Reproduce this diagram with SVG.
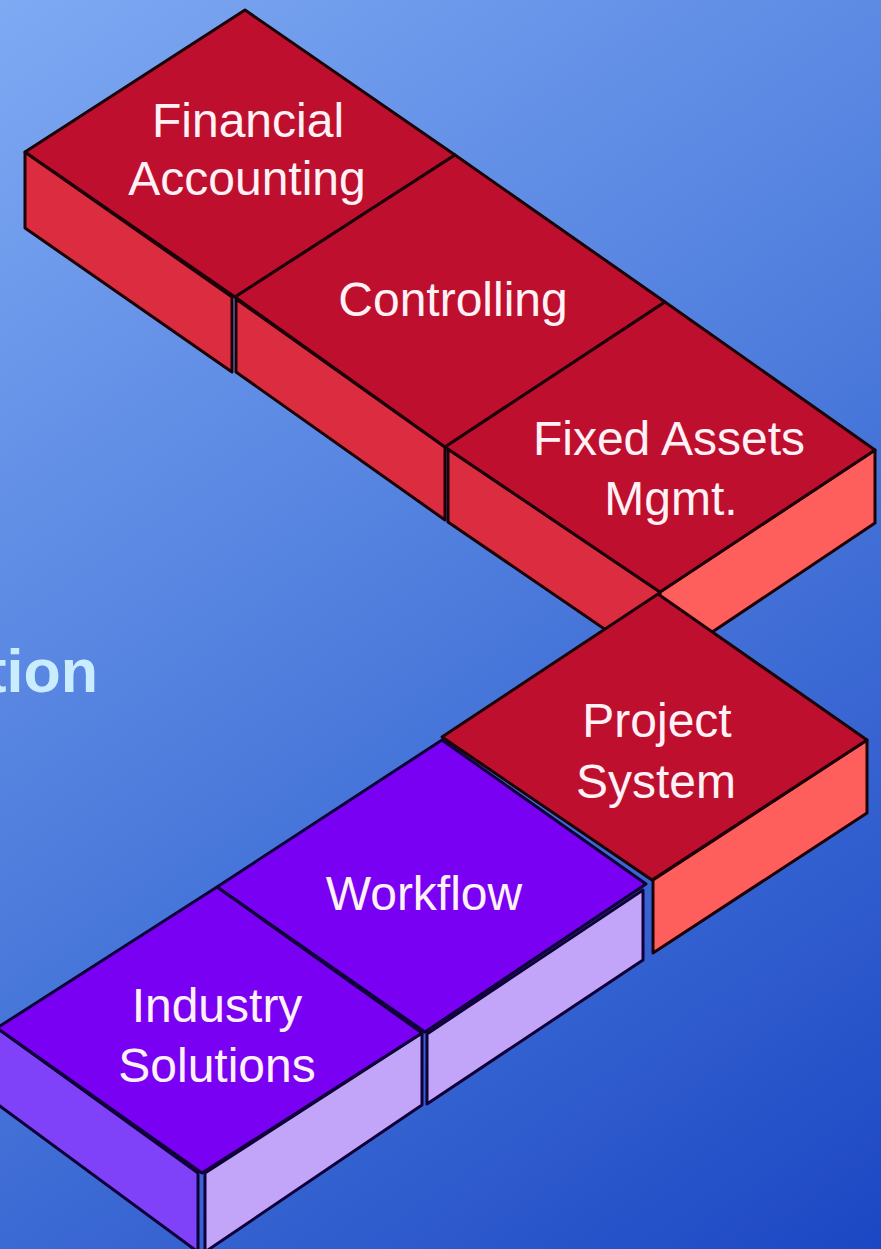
<svg xmlns="http://www.w3.org/2000/svg" width="881" height="1249" viewBox="0 0 881 1249">
<defs>
<linearGradient id="bg" x1="0" y1="0" x2="881" y2="1249" gradientUnits="userSpaceOnUse">
<stop offset="0" stop-color="#7EA9F3"/>
<stop offset="0.5" stop-color="#4C7BDC"/>
<stop offset="1" stop-color="#1C47C4"/>
</linearGradient>
<style>
.e{stroke-width:3;stroke-linejoin:round}
.r{stroke:#1C0008}
.p{stroke:#10003A}
.rt{fill:#BF0F2E}
.rl{fill:#DC2C40}
.rr{fill:#FF5F5C}
.pt{fill:#7A00F4}
.pl{fill:#8042F8}
.pr{fill:#C2A5F9}
.lbl{font-family:"Liberation Sans",Arial,sans-serif;font-size:48px;fill:#FFF1F5;text-anchor:middle}
.side{font-family:"Liberation Sans",Arial,sans-serif;font-weight:bold;font-size:61px;fill:#C9EDFF;text-anchor:end}
</style>
</defs>
<rect x="0" y="0" width="881" height="1249" fill="url(#bg)"/>
<text class="side" x="98" y="692">tion</text>
<g id="connectors"></g>
<g id="financial-accounting">
<polygon class="e r rl" points="25,152 232,297 232,372 25,228"/>
<polygon class="e r rt" points="245,10 455,155 235,297 25,152"/>
<text class="lbl" x="248" y="137">Financial</text>
<text class="lbl" x="247" y="195">Accounting</text>
</g>
<g id="controlling">
<polygon class="e r rl" points="236,299 445,447 445,520 236,372"/>
<polygon class="e r rt" points="455,155 665,302 445,447 235,297"/>
<text class="lbl" x="453" y="316">Controlling</text>
</g>
<g id="fixed-assets">
<polygon class="e r rl" points="448,449 660,592 660,667 448,522"/>
<polygon class="e r rr" points="660,592 875,450 875,523 660,667"/>
<polygon class="e r rt" points="665,302 875,450 660,592 445,447"/>
<text class="lbl" x="669" y="455">Fixed Assets</text>
<text class="lbl" x="671" y="515">Mgmt.</text>
</g>
<g id="project-system">
<polygon class="e r rr" points="653,880 867,740 867,813 653,953"/>
<polygon class="e r rt" points="658,594 867,740 652,880 442,737"/>
<text class="lbl" x="657" y="737">Project</text>
<text class="lbl" x="656" y="798">System</text>
</g>
<g id="workflow">
<polygon class="e p pr" points="427,1034 643,890 643,960 427,1104"/>
<polygon class="e p pt" points="442,740 646,884 425,1032 217,887"/>
<text class="lbl" x="424" y="910">Workflow</text>
</g>
<g id="industry-solutions">
<polygon class="e p pl" points="-3,1028 198,1173 198,1252 -3,1104"/>
<polygon class="e p pr" points="205,1173 422,1033 422,1105 205,1252"/>
<polygon class="e p pt" points="217,887 422,1033 202,1173 -3,1028"/>
<text class="lbl" x="217" y="1022">Industry</text>
<text class="lbl" x="217" y="1082">Solutions</text>
</g>
</svg>
